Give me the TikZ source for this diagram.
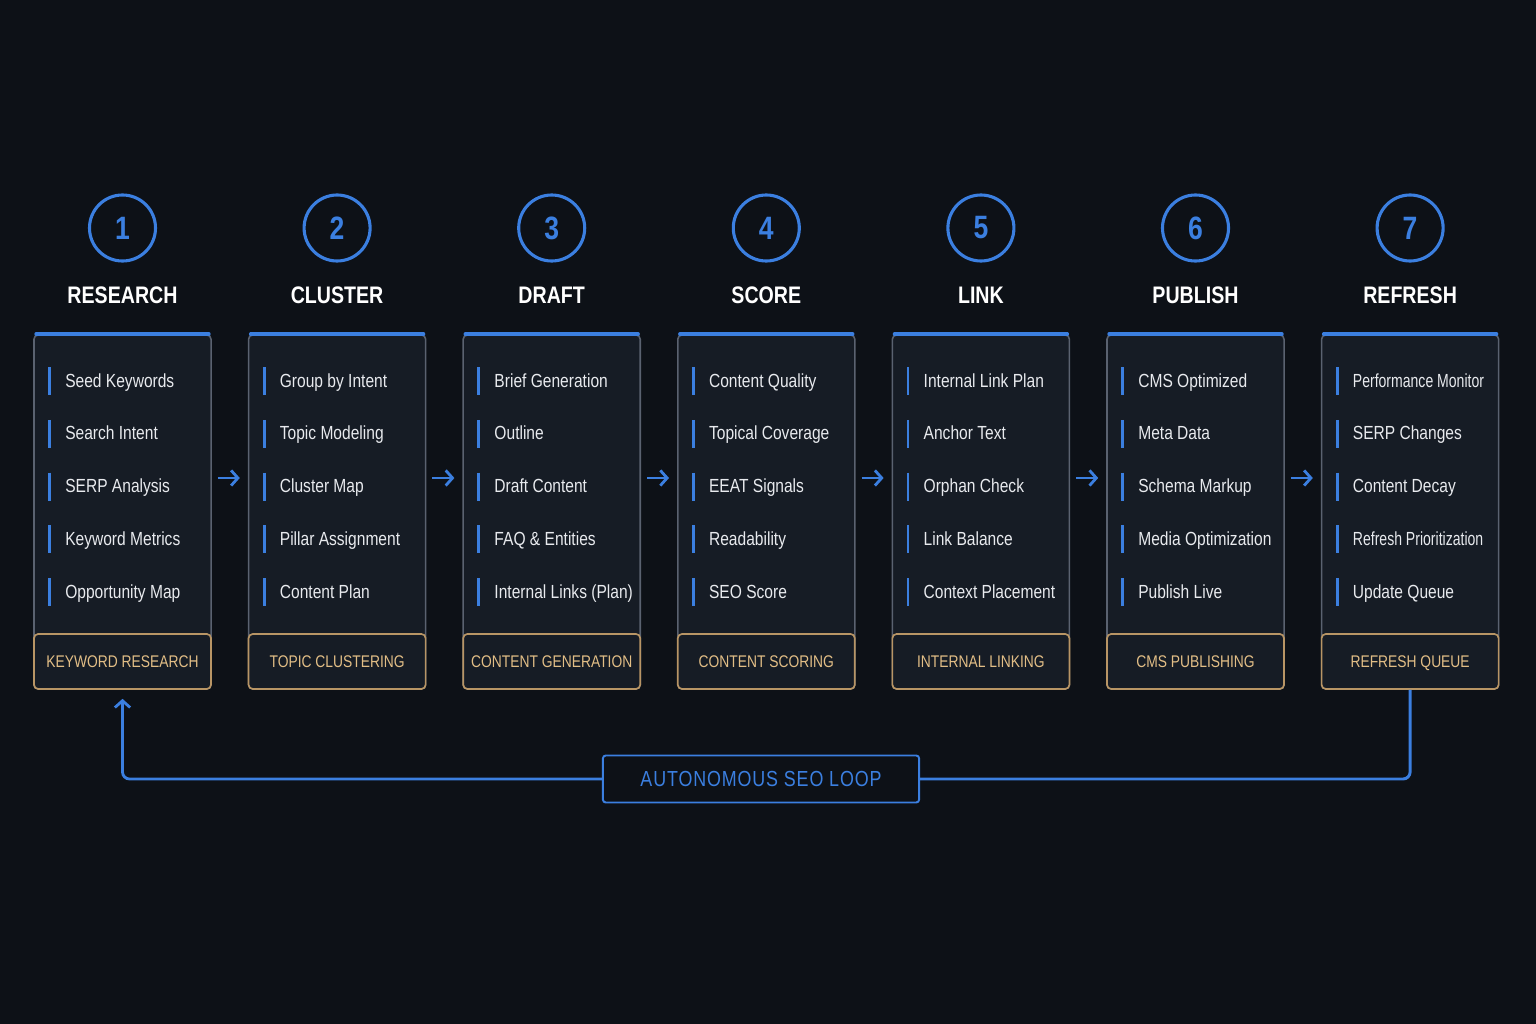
\documentclass[tikz,border=0pt]{standalone}
\usepackage{fontspec}
\setmainfont{Liberation Sans}[FakeStretch=0.82]
\newfontfamily\narrowfont{Liberation Sans}[FakeStretch=0.74]
\newfontfamily\loopfont{Liberation Sans}[FakeStretch=0.82,LetterSpace=4]
\usetikzlibrary{arrows.meta,positioning,calc}
\definecolor{bgdark}{HTML}{0D1117}
\definecolor{cardbg}{HTML}{161C25}
\definecolor{cardedge}{HTML}{5A6270}
\definecolor{flowblue}{HTML}{3B7FE0}
\definecolor{goldline}{HTML}{B89565}
\definecolor{goldtext}{HTML}{E2BE86}
\definecolor{itemtext}{HTML}{E8EAEE}

\begin{document}
\begin{tikzpicture}[
  x=0.025cm,y=-0.025cm,
  stage/.style={circle,draw=flowblue,line width=2.2pt,minimum size=1.65cm,
    inner sep=0pt,text=flowblue,font=\bfseries\fontsize{23}{28}\selectfont},
  title/.style={text=white,font=\bfseries\fontsize{17}{20}\selectfont},
  card/.style={draw=cardedge,line width=1.1pt,fill=cardbg,rounded corners=3pt,
    minimum width=4.425cm,minimum height=8.85cm,inner sep=0pt},
  foot/.style={draw=goldline,line width=1.2pt,fill=cardbg,rounded corners=3pt,
    minimum width=4.425cm,minimum height=1.375cm,inner sep=0pt,
    text height=2.1ex,text depth=0.4ex,
    text=goldtext,font=\fontsize{12}{14}\selectfont},
  item/.style={anchor=west,inner sep=0pt,text height=2.1ex,text depth=0.45ex,
    text=itemtext,font=\fontsize{13.5}{16}\selectfont},
  bar/.style={flowblue,line width=2pt},
  flow/.style={-{Straight Barb[length=1.7mm,width=3.8mm]},flowblue,line width=2pt},
  loopline/.style={flowblue,line width=2.1pt,rounded corners=5pt},
  loopbox/.style={draw=flowblue,line width=1.4pt,fill=bgdark,rounded corners=2pt,
    minimum width=7.9cm,minimum height=1.175cm,text=flowblue,
    font=\loopfont\fontsize{15.5}{18}\selectfont},
]

% Background
\fill[bgdark] (0,0) rectangle (1536,1024);

% Stages
\foreach \i/\name/\tag/\rows in {
  1/RESEARCH/KEYWORD RESEARCH/{Seed Keywords,Search Intent,SERP Analysis,Keyword Metrics,Opportunity Map},
  2/CLUSTER/TOPIC CLUSTERING/{Group by Intent,Topic Modeling,Cluster Map,Pillar Assignment,Content Plan},
  3/DRAFT/CONTENT GENERATION/{Brief Generation,Outline,Draft Content,FAQ \& Entities,Internal Links (Plan)},
  4/SCORE/CONTENT SCORING/{Content Quality,Topical Coverage,EEAT Signals,Readability,SEO Score},
  5/LINK/INTERNAL LINKING/{Internal Link Plan,Anchor Text,Orphan Check,Link Balance,Context Placement},
  6/PUBLISH/CMS PUBLISHING/{CMS Optimized,Meta Data,Schema Markup,Media Optimization,Publish Live},
  7/REFRESH/REFRESH QUEUE/{{\narrowfont Performance Monitor},SERP Changes,Content Decay,{\narrowfont Refresh Prioritization},Update Queue}}
{
  \pgfmathsetmacro{\cx}{122.5+214.6*(\i-1)}
  \node[stage] (s\i) at (\cx,228) {\i};
  \node[title] (t\i) at (\cx,295) {\name};
  \node[card] (c\i) at (\cx,512) {};
  \draw[flowblue,line width=2.4pt,line cap=round]
    ([xshift=2pt]c\i.north west) -- ([xshift=-2pt]c\i.north east);
  \node[foot,anchor=south] (f\i) at (c\i.south) {\tag};
  \foreach \row [count=\k] in \rows {
    \pgfmathsetmacro{\ry}{381+52.75*(\k-1)}
    \draw[bar] (\cx-73,\ry-14) -- (\cx-73,\ry+14);
    \node[item] (r\i-\k) at (\cx-57.5,\ry) {\row};
  }
}

% Arrows between stages
\foreach \i [evaluate=\i as \j using int(\i+1)] in {1,...,6}
  \draw[flow,shorten <=0.15cm,shorten >=0.2cm]
    ([yshift=0.85cm]c\i.east) -- ([yshift=0.85cm]c\j.west);

% Feedback loop
\node[loopbox] (loop) at (761,779) {AUTONOMOUS SEO LOOP};
\draw[loopline] (c7.south) |- (loop.east);
\draw[loopline,flow,shorten >=0.225cm] (loop.west) -| (c1.south);

\end{tikzpicture}
\end{document}
